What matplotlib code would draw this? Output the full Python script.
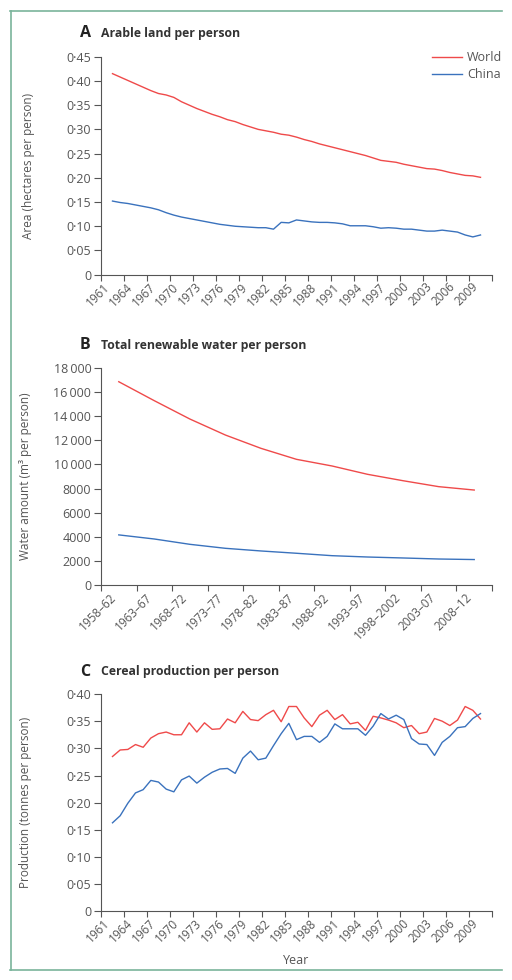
import matplotlib
matplotlib.use("Agg")
import matplotlib.pyplot as plt
from matplotlib.lines import Line2D
import numpy as np

plt.rcParams['font.family'] = ['Open Sans', 'DejaVu Sans']

# data
years = list(range(1961, 2010))
year_labels = [str(y) for y in range(1961, 2010, 3)]

land_world = [0.415, 0.408, 0.401, 0.394, 0.387, 0.380, 0.374, 0.371, 0.366, 0.357,
              0.350, 0.343, 0.337, 0.331, 0.326, 0.320, 0.316, 0.310, 0.305, 0.300,
              0.297, 0.294, 0.290, 0.288, 0.284, 0.279, 0.275, 0.270, 0.266, 0.262,
              0.258, 0.254, 0.250, 0.246, 0.241, 0.236, 0.234, 0.232, 0.228, 0.225,
              0.222, 0.219, 0.218, 0.215, 0.211, 0.208, 0.205, 0.204, 0.201]
land_china = [0.152, 0.149, 0.147, 0.144, 0.141, 0.138, 0.134, 0.128, 0.123, 0.119,
              0.116, 0.113, 0.110, 0.107, 0.104, 0.102, 0.100, 0.099, 0.098, 0.097,
              0.097, 0.094, 0.108, 0.107, 0.113, 0.111, 0.109, 0.108, 0.108, 0.107,
              0.105, 0.101, 0.101, 0.101, 0.099, 0.096, 0.097, 0.096, 0.094, 0.094,
              0.092, 0.090, 0.090, 0.092, 0.090, 0.088, 0.082, 0.078, 0.082]

periods = ['1958–62', '1963–67', '1968–72', '1973–77', '1978–82', '1983–87',
           '1988–92', '1993–97', '1998–2002', '2003–07', '2008–12']
water_world = [16840, 15270, 13755, 12430, 11330, 10420, 9870, 9180, 8650, 8160, 7880]
water_china = [4170, 3830, 3390, 3060, 2840, 2650, 2450, 2340, 2260, 2175, 2130]

cereal_world = [0.285, 0.297, 0.298, 0.307, 0.302, 0.319, 0.327, 0.330, 0.325, 0.325,
                0.347, 0.330, 0.347, 0.335, 0.336, 0.354, 0.347, 0.368, 0.353, 0.351,
                0.362, 0.370, 0.349, 0.377, 0.377, 0.356, 0.340, 0.361, 0.370, 0.353,
                0.362, 0.345, 0.348, 0.333, 0.359, 0.356, 0.352, 0.347, 0.338, 0.342,
                0.327, 0.330, 0.355, 0.350, 0.342, 0.352, 0.377, 0.370, 0.354]
cereal_china = [0.163, 0.176, 0.199, 0.218, 0.224, 0.241, 0.238, 0.225, 0.220, 0.242,
                0.249, 0.236, 0.247, 0.256, 0.262, 0.263, 0.254, 0.282, 0.295, 0.279,
                0.282, 0.305, 0.327, 0.346, 0.316, 0.322, 0.322, 0.311, 0.322, 0.345,
                0.336, 0.336, 0.336, 0.324, 0.341, 0.364, 0.354, 0.361, 0.353, 0.318,
                0.308, 0.307, 0.287, 0.311, 0.322, 0.338, 0.340, 0.355, 0.364]

red = '#ef4a4a'
blue = '#3a72bd'
grey = '#555555'
W, H = 512, 980

fig = plt.figure(figsize=(W / 100, H / 100), dpi=100)


def box(top_px, bottom_px):
    return [101 / W, 1 - bottom_px / H, 391 / W, (bottom_px - top_px) / H]


def style(ax):
    for s in ['top', 'right']:
        ax.spines[s].set_visible(False)
    for s in ['left', 'bottom']:
        ax.spines[s].set_color(grey)
        ax.spines[s].set_linewidth(0.8)
    ax.tick_params(axis='y', which='major', length=5, width=0.8, color=grey,
                   labelsize=9, labelcolor=grey, pad=2)
    ax.tick_params(axis='x', which='major', length=4, width=0.8, color=grey,
                   labelbottom=False)
    ax.tick_params(axis='x', which='minor', length=0, labelsize=8.5,
                   labelcolor=grey, pad=4)


def xcats(ax, n, labels):
    ax.set_xlim(-0.5, n - 0.5)
    ax.set_xticks(np.arange(n + 1) - 0.5)
    ax.set_xticks(np.arange(n), minor=True)
    ax.set_xticklabels(labels, minor=True, rotation=45, ha='right', va='top')


def dot(v):
    return '0' if v == 0 else ('%.2f' % v).replace('.', '·')


# A
ax1 = fig.add_axes(box(56.7, 274.7))
x = (np.array(years) - 1961) / 3.0
ax1.plot(x, land_world, color=red, lw=1.0, label='World')
ax1.plot(x, land_china, color=blue, lw=1.0, label='China')
xcats(ax1, len(year_labels), year_labels)
ax1.set_ylim(0, 0.45)
yt = np.arange(0, 0.451, 0.05)
ax1.set_yticks(yt)
ax1.set_yticklabels([dot(v) for v in yt])
ax1.set_ylabel('Area (hectares per person)', fontsize=8.5, color=grey)
ax1.yaxis.set_label_coords(-0.169, 0.5)
style(ax1)
ax1.legend(loc='upper left', bbox_to_anchor=(426 / W, 1 - 45 / H),
           bbox_transform=fig.transFigure, frameon=False, fontsize=9,
           labelcolor=grey, handlelength=2.4, handletextpad=0.4,
           labelspacing=0.3, borderpad=0)

# B
ax2 = fig.add_axes(box(367.7, 585.3))
ax2.plot(range(len(periods)), water_world, color=red, lw=1.0)
ax2.plot(range(len(periods)), water_china, color=blue, lw=1.0)
xcats(ax2, len(periods), periods)
ax2.set_ylim(0, 18000)
yt2 = range(0, 18001, 2000)
ax2.set_yticks(list(yt2))
ax2.set_yticklabels([('%d' % v if v < 10000 else '%d\u2009%03d' % (v // 1000, v % 1000))
                     for v in yt2])
ax2.set_ylabel('Water amount (m³ per person)', fontsize=8.5, color=grey)
ax2.yaxis.set_label_coords(-0.176, 0.5)
style(ax2)

# C
ax3 = fig.add_axes(box(694.0, 911.4))
ax3.plot(x, cereal_world, color=red, lw=1.0)
ax3.plot(x, cereal_china, color=blue, lw=1.0)
xcats(ax3, len(year_labels), year_labels)
ax3.set_ylim(0, 0.40)
yt3 = np.arange(0, 0.401, 0.05)
ax3.set_yticks(yt3)
ax3.set_yticklabels([dot(v) for v in yt3])
ax3.set_ylabel('Production (tonnes per person)', fontsize=8.5, color=grey)
ax3.yaxis.set_label_coords(-0.176, 0.5)
ax3.set_xlabel('Year', fontsize=9, color=grey, labelpad=6)
style(ax3)

# panel titles
for letter, title, ypx in [('A', 'Arable land per person', 33),
                           ('B', 'Total renewable water per person', 345),
                           ('C', 'Cereal production per person', 671.5)]:
    fig.text(80 / W, 1 - ypx / H, letter, fontsize=11.5, fontweight='bold',
             color='#222222', va='center', ha='left')
    fig.text(101 / W, 1 - ypx / H, title, fontsize=8.8, fontweight='bold',
             color='#333333', va='center', ha='left')

# frame around the figure
fc = '#7ab49b'
fig.add_artist(Line2D([10.5 / W, 10.5 / W], [1 - 11 / H, 1 - 970 / H], color=fc, lw=1.2))
fig.add_artist(Line2D([10 / W, 502 / W], [1 - 11 / H, 1 - 11 / H], color=fc, lw=1.2))
fig.add_artist(Line2D([10 / W, 502 / W], [1 - 970 / H, 1 - 970 / H], color=fc, lw=1.2))

plt.savefig('out.png', dpi=100)
